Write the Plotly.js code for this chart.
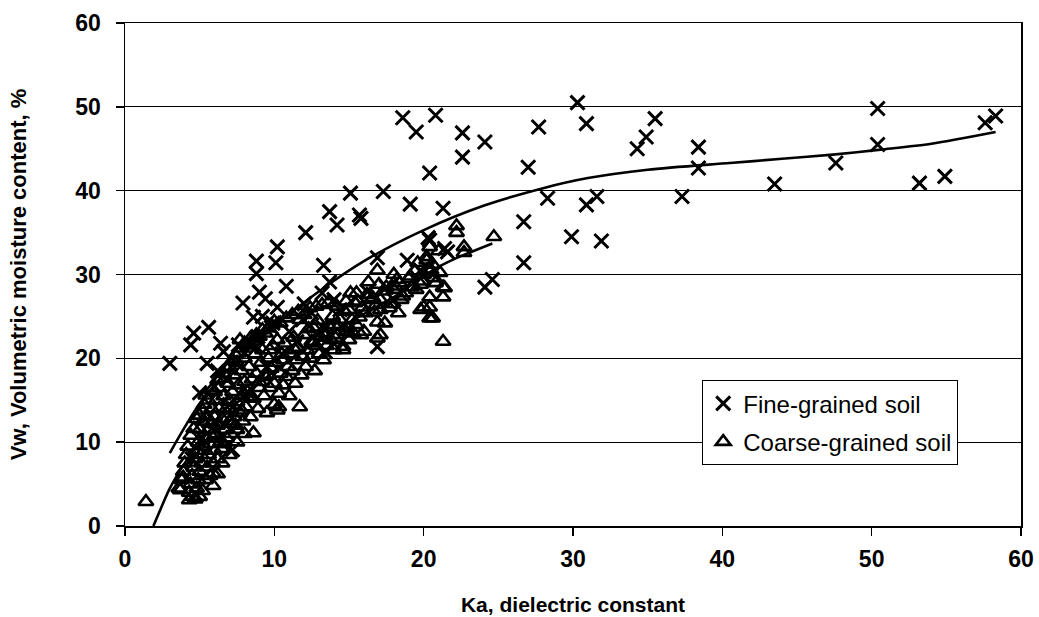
<!DOCTYPE html>
<html>
<head>
<meta charset="utf-8">
<script src="https://cdn.plot.ly/plotly-3.0.1.min.js"></script>
<style>html,body{margin:0;padding:0;background:#fff;}#chart{width:1039px;height:617px;}</style>
</head>
<body>
<div id="chart"></div>
<script>
// Fine-grained soil points (Ka, Vw)
var fineKa = [18.6,19.5,20.8,22.6,22.6,24.1,20.4,27.7,27.0,17.3,19.1,15.1,15.7,21.3,30.3,30.9,35.5,34.9,34.3,38.4,38.4,37.3,28.3,30.9,31.6,26.7,29.9,31.9,26.7,24.6,24.1,21.6,18.9,20.4,50.4,50.4,47.6,43.5,53.2,54.9,57.6,58.3,13.7,14.2,15.8,12.1,10.2,8.8,10.1,8.8,10.8,13.3,13.7,13.2,9.4,7.9,9.0,8.6,10.2,4.6,5.6,4.4,6.4,6.6,7.6,5.5,8.9,9.8,12.5,8.8,3.0,5.0,7.2,16.9,16.9,20.3,21.4,14.4,11.0,13.2,13.4,6.0,7.0,8.2,9.5,11.5,12.8,15.0,18.0,19.8,17.5,5.2,4.5,6.8,10.5,11.9,9.9,6.2,7.4,8.4,9.2,12.0,14.0,16.2];
var fineVw = [48.7,47.0,49.0,46.9,44.0,45.8,42.1,47.6,42.8,39.9,38.4,39.7,37.1,37.9,50.5,48.0,48.6,46.4,45.0,45.2,42.7,39.3,39.1,38.3,39.3,36.3,34.5,34.0,31.4,29.4,28.5,32.7,31.7,34.1,49.8,45.5,43.3,40.8,40.9,41.7,48.1,48.9,37.5,35.9,36.7,35.0,33.3,31.6,31.4,30.1,28.6,31.1,29.1,27.8,27.1,26.6,27.9,24.9,26.1,23.0,23.7,21.6,21.8,20.8,21.6,19.4,22.6,23.7,25.4,21.4,19.4,15.9,9.1,21.4,32.0,34.4,33.1,25.8,23.2,23.8,20.8,12.5,14.5,16.0,19.0,22.0,23.0,23.5,27.0,30.5,28.5,10.5,8.0,17.5,20.5,24.6,24.2,18.5,19.5,21.5,25.0,26.5,27.0,28.0];

// Coarse-grained soil points (Ka, Vw)
var coarseKa = [1.4,3.6,3.8,3.9,4.0,4.1,4.2,4.3,4.4,4.5,4.5,4.6,4.7,4.7,4.8,4.8,4.9,4.9,5.0,5.0,5.0,5.1,5.1,5.2,5.2,5.3,5.3,5.4,5.4,5.5,5.5,5.6,5.6,5.7,5.7,5.8,5.8,5.9,5.9,6.0,6.0,6.1,6.1,6.2,6.2,6.3,6.3,6.4,6.5,6.5,6.6,6.7,6.7,6.8,6.9,7.0,7.0,7.1,7.1,7.2,7.3,7.3,7.4,7.5,7.5,7.6,7.7,7.8,7.8,7.9,8.0,8.0,8.1,8.2,8.3,8.4,8.5,8.6,8.6,8.7,8.8,8.9,9.0,9.1,9.2,9.3,9.4,9.5,9.6,9.7,9.8,9.9,10.0,10.0,10.1,10.2,10.2,10.3,10.4,10.5,10.6,10.7,10.8,10.9,11.0,11.1,11.2,11.3,11.4,11.5,11.6,11.7,11.7,11.8,11.9,12.0,12.1,12.2,12.3,12.4,12.5,12.6,12.7,12.8,12.9,13.0,13.1,13.3,13.4,13.5,13.7,13.8,14.0,14.0,14.2,14.4,14.6,14.6,14.8,14.9,15.0,15.1,15.3,15.5,15.5,15.7,15.9,16.0,16.3,16.5,16.7,16.9,16.9,16.9,17.1,17.1,17.1,17.5,17.8,18.0,18.0,18.2,18.5,18.8,19.0,19.2,19.6,19.8,19.8,20.0,20.2,20.2,20.4,20.4,20.4,20.4,20.6,20.5,20.8,21.3,21.3,21.4,21.3,20.0,22.2,22.2,22.7,22.7,24.7,10.3,5.9,6.2,6.5,7.0,7.5,8.0,7.5,4.3,4.7,3.7,3.9,5.9,7.7,9.7,
  4.4,4.6,4.8,5.0,5.2,5.4,5.6,5.8,6.0,6.2,6.4,6.6,6.8,7.0,7.2,7.4,7.6,7.8,8.0,8.2,8.4,8.6,8.8,9.0,9.2,9.4,9.6,9.8,10.0,10.4,10.8,11.2,11.6,12.0,12.4,12.8,13.2,13.6,14.2,14.8,15.4,16.2,17.0,18.4,19.4,20.6,21.0,6.0,6.6,7.2,7.8,8.4,9.0,9.6,10.6,11.4,12.6,13.4,
  13.9,14.3,14.7,15.2,15.6,16.1,16.4,16.8,17.3,17.7,18.1,18.6,19.1,19.5,19.9,20.3,20.7,21.1,14.1,15.0,15.8,16.6,17.4,18.3];
var coarseVw = [2.9,4.5,5.5,6.5,7.5,8.5,9.5,4.0,5.0,3.5,6.0,7.0,3.2,8.0,9.0,4.5,10.0,5.5,3.5,6.5,11.5,7.5,8.5,4.2,12.5,9.5,14.5,5.5,10.5,7.0,13.0,8.5,11.5,6.0,9.8,12.3,14.0,7.5,10.5,9.0,13.0,11.0,15.0,8.0,12.0,14.0,16.5,10.0,12.8,9.2,15.5,11.5,13.8,10.5,17.0,12.5,15.0,11.0,14.0,16.0,13.0,18.0,12.0,14.8,19.5,16.8,13.5,18.5,15.5,12.5,17.2,20.0,14.2,16.0,19.0,13.0,17.5,11.1,15.2,20.5,18.2,14.0,16.5,19.5,21.0,15.5,17.8,13.5,20.0,16.5,18.8,21.5,14.5,17.0,19.5,13.8,22.2,15.8,18.2,20.5,16.8,21.8,17.8,19.0,15.5,20.5,18.5,22.5,17.0,19.8,21.3,14.2,24.6,18.0,20.2,22.8,19.0,21.0,23.5,20.0,22.0,23.7,18.5,21.5,24.5,20.5,22.5,19.8,23.0,21.5,23.7,22.2,21.0,24.0,22.8,24.6,21.0,21.4,23.2,23.6,22.2,27.8,23.0,27.8,24.0,24.9,26.1,23.2,29.1,27.0,25.5,30.5,24.3,22.4,27.0,25.8,22.8,28.5,26.5,28.2,30.0,29.4,27.0,27.8,29.5,28.5,31.4,28.8,25.8,26.1,31.7,32.1,33.3,27.3,26.1,24.8,24.8,30.5,29.0,28.5,27.3,28.4,22.0,30.0,35.8,35.0,33.3,32.6,34.5,14.2,4.8,6.2,7.5,8.5,10.0,11.0,11.5,3.1,3.3,4.3,5.8,6.3,22.2,21.0,
  10.8,11.6,12.8,13.2,13.8,15.6,15.0,16.2,16.0,17.4,17.6,18.2,18.8,19.0,19.8,20.4,20.6,21.2,21.8,21.6,22.4,22.0,22.8,22.6,23.4,23.0,23.6,24.0,24.4,24.2,24.8,25.2,25.6,25.2,26.0,26.2,26.4,26.6,26.2,26.8,26.6,27.6,28.8,29.0,30.4,31.2,32.8,10.8,9.8,12.2,13.8,15.4,17.2,18.0,19.8,21.0,21.8,22.6,
  25.0,23.8,25.6,24.6,26.8,25.4,27.6,26.4,28.0,26.0,28.6,27.4,29.8,28.2,29.2,30.6,29.6,30.2,22.4,25.8,22.8,27.2,24.2,25.4];

// Fitted curves
var fineFitKa = [3.0,5.0,7.0,10.0,13.0,16.0,20.0,24.0,28.0,31.0,35.0,40.5,44.0,47.4,50.6,54.0,58.3];
var fineFitVw = [8.7,14.6,18.8,23.8,28.0,31.6,35.3,38.2,40.3,41.5,42.5,43.3,43.8,44.3,44.9,45.6,47.0];
var coarseFitKa = [1.9,2.5,3.0,4.0,5.0,6.0,8.0,10.0,12.0,15.0,18.0,20.6,22.0,24.6];
var coarseFitVw = [0.0,2.5,4.5,7.5,10.0,12.0,15.5,18.5,21.0,24.3,27.3,30.5,31.8,33.7];

var xTicks = [0,10,20,30,40,50,60];
var yTicks = [0,10,20,30,40,50,60];

var FONT = '"Liberation Sans", Arial, sans-serif';

var traces = [
  {x: fineKa, y: fineVw, type: 'scatter', mode: 'markers', name: 'Fine-grained soil', legendgroup: 'a',
   marker: {symbol: 'x-thin-open', size: 14, color: '#000', line: {color: '#000', width: 3}}},
  {x: coarseKa, y: coarseVw, type: 'scatter', mode: 'markers', name: 'Coarse-grained soil', legendgroup: 'b',
   marker: {symbol: 'triangle-up-open', size: 13, color: '#000', line: {color: '#000', width: 2.6}}},
  {x: fineFitKa, y: fineFitVw, type: 'scatter', mode: 'lines', showlegend: false,
   line: {color: '#000', width: 2.6, shape: 'spline', smoothing: 0.8}},
  {x: coarseFitKa, y: coarseFitVw, type: 'scatter', mode: 'lines', showlegend: false,
   line: {color: '#000', width: 2.6, shape: 'spline', smoothing: 0.8}}
];

var layout = {
  width: 1039, height: 617,
  margin: {l: 125, r: 18, t: 23, b: 91},
  paper_bgcolor: '#fff', plot_bgcolor: '#fff',
  showlegend: true,
  font: {family: FONT, color: '#000'},
  xaxis: {
    range: [0, 60], tickvals: xTicks, ticktext: xTicks.map(String),
    showgrid: false, zeroline: false,
    showline: true, linecolor: '#000', linewidth: 1.5, mirror: true,
    ticks: 'outside', ticklen: 8, tickwidth: 1.5, tickcolor: '#000',
    ticklabelstandoff: 4,
    tickfont: {family: FONT, size: 23, weight: 'bold', color: '#000'},
    title: {text: 'Ka, dielectric constant', font: {family: FONT, size: 21, weight: 'bold', color: '#000'}, standoff: 26},
    automargin: false
  },
  yaxis: {
    range: [0, 60], tickvals: yTicks, ticktext: yTicks.map(String),
    showgrid: true, gridcolor: '#000', gridwidth: 1.3, zeroline: false,
    showline: true, linecolor: '#000', linewidth: 1.5, mirror: true,
    ticks: 'outside', ticklen: 8, tickwidth: 1.5, tickcolor: '#000',
    ticklabelstandoff: 10,
    tickfont: {family: FONT, size: 23, weight: 'bold', color: '#000'},
    title: {text: 'Vw, Volumetric moisture content, %', font: {family: FONT, size: 22, weight: 'bold', color: '#000'}, standoff: 42},
    automargin: false
  },
  legend: {
    x: 0.644, y: 0.29, xanchor: 'left', yanchor: 'top',
    bgcolor: '#fff', bordercolor: '#000', borderwidth: 1.2,
    font: {family: FONT, size: 24, color: '#000'},
    traceorder: 'grouped', tracegroupgap: 4,
    itemwidth: 30
  }
};

Plotly.newPlot('chart', traces, layout, {staticPlot: true, displayModeBar: false});
</script>
</body>
</html>
